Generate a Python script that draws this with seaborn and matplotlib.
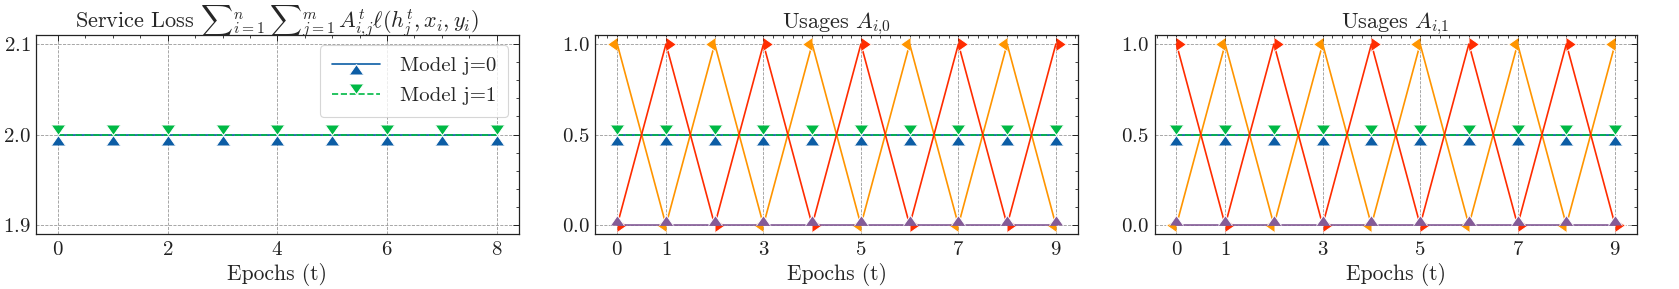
import numpy as np
import pandas as pd
import matplotlib
matplotlib.use("Agg")
import matplotlib.pyplot as plt
import seaborn as sns

# ---- data ----
epochs_loss = [0, 1, 2, 3, 4, 5, 6, 7, 8]
loss_model0 = [2.0, 2.0, 2.0, 2.0, 2.0, 2.0, 2.0, 2.0, 2.0]
loss_model1 = [2.0, 2.0, 2.0, 2.0, 2.0, 2.0, 2.0, 2.0, 2.0]

epochs_usage = [0, 1, 2, 3, 4, 5, 6, 7, 8, 9]
usage0_s0 = [0.5, 0.5, 0.5, 0.5, 0.5, 0.5, 0.5, 0.5, 0.5, 0.5]
usage0_s1 = [0.5, 0.5, 0.5, 0.5, 0.5, 0.5, 0.5, 0.5, 0.5, 0.5]
usage0_s2 = [1, 0, 1, 0, 1, 0, 1, 0, 1, 0]
usage0_s3 = [0, 1, 0, 1, 0, 1, 0, 1, 0, 1]
usage0_s4 = [0, 0, 0, 0, 0, 0, 0, 0, 0, 0]

usage1_s0 = [0.5, 0.5, 0.5, 0.5, 0.5, 0.5, 0.5, 0.5, 0.5, 0.5]
usage1_s1 = [0.5, 0.5, 0.5, 0.5, 0.5, 0.5, 0.5, 0.5, 0.5, 0.5]
usage1_s2 = [0, 1, 0, 1, 0, 1, 0, 1, 0, 1]
usage1_s3 = [1, 0, 1, 0, 1, 0, 1, 0, 1, 0]
usage1_s4 = [0, 0, 0, 0, 0, 0, 0, 0, 0, 0]

legend_labels = ["Model j=0", "Model j=1"]
loss_yticks = [1.9, 2.0, 2.1]
usage_xticks = [0, 1, 3, 5, 7, 9]
usage_yticks = [0.0, 0.5, 1.0]
titles = [r"Service Loss ${\sum}_{i{=}1}^{n}\,{\sum}_{j{=}1}^{m}\,A^{t}_{i{,}j}\ell(h^{t}_{j},x_{i},y_{i})$",
          r"Usages $A_{i{,}0}$", r"Usages $A_{i{,}1}$"]
xlabel = "Epochs (t)"

colors = ["#0C5DA5", "#00B945", "#FF9500", "#FF2C00", "#845B97"]
markers = [6, 7, 8, 9, 10]
styles = ["-", "--", "-", "-", "-"]

sns.set_theme(style="white")
plt.rcParams.update({
    "font.family": "serif",
    "font.serif": ["cmr10"],
    "mathtext.fontset": "cm",
    "axes.formatter.use_mathtext": True,
    "axes.unicode_minus": False,
    "font.size": 15,
    "axes.titlesize": 16,
    "axes.labelsize": 15.5,
    "xtick.labelsize": 15,
    "ytick.labelsize": 15,
    "legend.fontsize": 15,
    "axes.edgecolor": "#222222",
    "axes.linewidth": 0.9,
    "xtick.direction": "in",
    "ytick.direction": "in",
    "xtick.top": True,
    "ytick.right": True,
    "xtick.minor.visible": True,
    "ytick.minor.visible": True,
    "xtick.major.size": 4.5,
    "ytick.major.size": 4.5,
    "xtick.minor.size": 2.3,
    "ytick.minor.size": 2.3,
    "xtick.major.width": 0.7,
    "ytick.major.width": 0.7,
    "xtick.minor.width": 0.6,
    "ytick.minor.width": 0.6,
    "xtick.color": "#222222",
    "ytick.color": "#222222",
    "xtick.major.pad": 5,
    "ytick.major.pad": 4,
})

fig, axes = plt.subplots(1, 3, figsize=(16.79, 2.89), dpi=100)
fig.subplots_adjust(left=0.0215, right=0.975, top=0.879, bottom=0.19, wspace=0.159)

lw = 1.2
ms = 10

ax = axes[0]
for i, ys in enumerate([loss_model0, loss_model1]):
    sns.lineplot(x=epochs_loss, y=ys, ax=ax, color=colors[i], marker=markers[i],
                 linestyle=styles[i], linewidth=lw, markersize=ms, label=legend_labels[i])
leg = ax.legend(loc="upper right", frameon=True, fancybox=True, framealpha=0.8,
                edgecolor="#cccccc", borderpad=0.55, handlelength=2.3, labelspacing=0.55,
                borderaxespad=0.5, handletextpad=1.0)
leg.get_frame().set_linewidth(0.8)
ax.set_yticks(loss_yticks)

for ax, series in zip(axes[1:], [[usage0_s0, usage0_s1, usage0_s2, usage0_s3, usage0_s4],
                                 [usage1_s0, usage1_s1, usage1_s2, usage1_s3, usage1_s4]]):
    for i, ys in enumerate(series):
        sns.lineplot(x=epochs_usage, y=ys, ax=ax, color=colors[i], marker=markers[i],
                     linestyle=styles[i], linewidth=lw, markersize=ms, legend=False)
    ax.set_xticks(usage_xticks)
    ax.set_yticks(usage_yticks)

for ax, t in zip(axes, titles):
    ax.set_title(t, pad=5)
    ax.set_xlabel(xlabel, labelpad=3)
    ax.set_ylabel("")
    ax.grid(True, which="major", linestyle="--", linewidth=0.6, color="#999999")
    ax.set_axisbelow(True)
    for sp in ax.spines.values():
        sp.set_visible(True)

fig.savefig("out.png", dpi=100)
